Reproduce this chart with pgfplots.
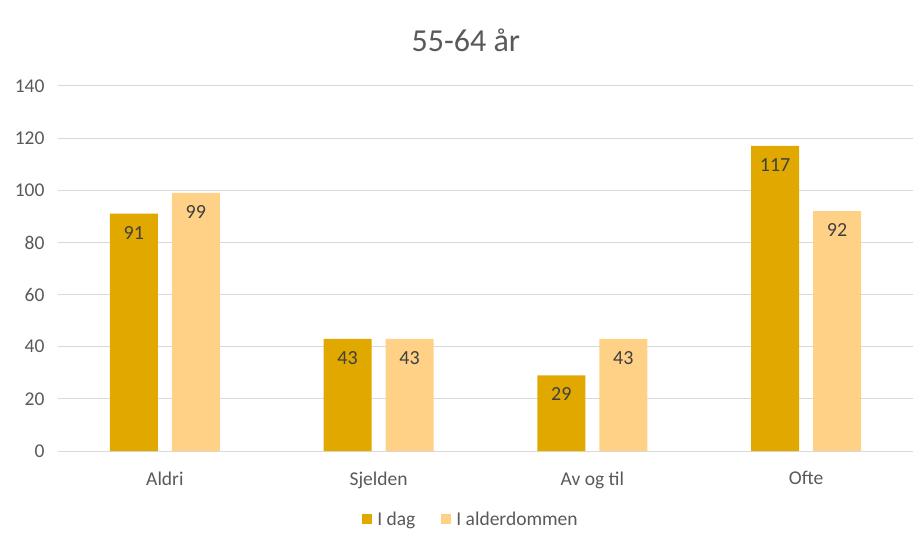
\documentclass[border=0pt]{standalone}
\usepackage{pgfplots}
\pgfplotsset{compat=1.18}
\usepackage{fontspec}
\setmainfont{Carlito}
\definecolor{darkgold}{HTML}{E1A800}
\definecolor{lightgold}{HTML}{FFD186}
\definecolor{txtgray}{HTML}{595959}
\definecolor{lbl}{HTML}{404040}
\definecolor{gridc}{HTML}{D9D9D9}
\begin{document}
\begin{tikzpicture}
\begin{axis}[
  scale only axis,
  width=855pt, height=365pt,
  xmin=-0.5, xmax=3.5,
  ymin=0, ymax=140,
  ytick={0,20,...,140},
  xtick={0,1,2,3},
  xticklabels={Aldri,Sjelden,Av og til,Ofte},
  /pgf/number format/assume math mode=true,
  ybar, bar width=48pt,
  axis line style={draw=none},
  x axis line style={draw=none},
  major tick length=0pt,
  ymajorgrids, grid style={gridc, line width=1pt},
  tick label style={font=\fontsize{19.5}{23}\selectfont, text=txtgray},
  yticklabel style={xshift=-10pt},
  xticklabel style={yshift=-17pt},
  title={55-64 år},
  title style={font=\fontsize{32}{38}\selectfont, text=txtgray, at={(0.477,1)}, anchor=south, yshift=25pt},
  nodes near coords,
  every node near coord/.append style={font=\fontsize{20}{24}\selectfont, text=lbl, anchor=north, yshift=-9pt},
  legend style={draw=none, at={(0.483,-0.155)}, anchor=north, legend columns=2,
    font=\fontsize{19.5}{23}\selectfont, text=txtgray,
    /tikz/every even column/.append style={column sep=24pt}},
  legend image code/.code={\fill[#1] (0pt,-5pt) rectangle (10pt,5pt);},
  legend cell align=left,
]
\addplot[fill=darkgold, draw=none, bar shift=-31pt] coordinates {(0,91) (1,43) (2,29) (3,117)};
\addplot[fill=lightgold, draw=none, bar shift=31pt] coordinates {(0,99) (1,43) (2,43) (3,92)};
\legend{\hspace{3pt}I dag, \hspace{3pt}I alderdommen}
\end{axis}
\pgfresetboundingbox
\path[use as bounding box] ([xshift=-58pt,yshift=-92pt]current axis.south west) rectangle ([xshift=10pt,yshift=86pt]current axis.north east);
\end{tikzpicture}
\end{document}
